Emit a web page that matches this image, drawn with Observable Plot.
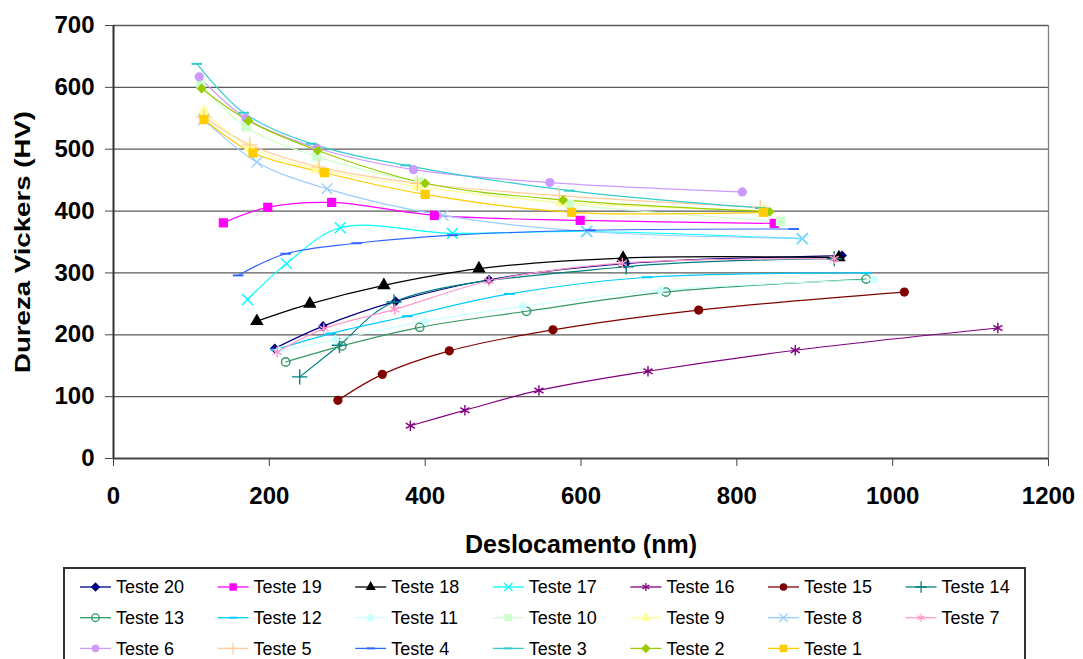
<!DOCTYPE html>
<html>
<head>
<meta charset="utf-8">
<script src="https://cdn.jsdelivr.net/npm/d3@7"></script>
<script src="https://cdn.jsdelivr.net/npm/@observablehq/plot@0.6"></script>
<style>
  body { margin: 0; background: #fff; font-family: "Liberation Sans", Arial, sans-serif; }
  #chart { position: relative; width: 1083px; height: 659px; overflow: hidden; background: #fff; }
</style>
</head>
<body>
<div id="chart"></div>
<script>
// ---- Data ----
const names = ["Teste 20","Teste 19","Teste 18","Teste 17","Teste 16","Teste 15","Teste 14",
               "Teste 13","Teste 12","Teste 11","Teste 10","Teste 9","Teste 8","Teste 7",
               "Teste 6","Teste 5","Teste 4","Teste 3","Teste 2","Teste 1"];
const colors = ["#000080","#ff00ff","#000000","#00ffff","#800080","#800000","#008080",
                "#339966","#00ccff","#ccffff","#ccffcc","#ffff99","#99ccff","#ff99cc",
                "#cc99ff","#ffcc99","#3366ff","#33cccc","#99cc00","#ffcc00"];
const markers = ["diamond","square","triangle","times","asterisk","circle","plus",
                 "ocircle","dash","diamond","square","triangle","times","asterisk",
                 "circle","plus","dash","dash","diamond","square"];

const x20 = [207, 269, 362, 482, 657, 935];   const y20 = [178, 214, 254, 289, 315, 328];
const x19 = [141, 198, 280, 412, 599, 848];   const y19 = [381, 406, 414, 393, 385, 380];
const x18 = [184, 252, 347, 469, 654, 931];   const y18 = [222, 250, 280, 307, 324, 325];
const x17 = [172, 222, 291, 435, 607, 884];   const y17 = [257, 315, 373, 364, 367, 355];
const x16 = [381, 451, 546, 686, 875, 1135];  const y16 = [53, 78, 110, 141, 175, 211];
const x15 = [288, 345, 431, 564, 751, 1015];  const y15 = [94, 136, 174, 208, 240, 269];
const x14 = [239, 290, 360, 658, 925];        const y14 = [132, 183, 253, 310, 323];
const x13 = [221, 293, 393, 530, 709, 966];   const y13 = [156, 182, 212, 238, 269, 290];
const x12 = [208, 279, 377, 508, 685, 966];   const y12 = [176, 202, 230, 266, 293, 300];
const x11 = [212, 285, 400, 525, 702, 976];   const y11 = [174, 192, 222, 246, 272, 289];
const x10 = [112, 170, 261, 392, 585, 856];   const y10 = [605, 536, 488, 447, 411, 383];
const x9  = [116, 175, 262, 390, 575, 835];   const y9  = [561, 503, 468, 440, 414, 401];
const x8  = [116, 184, 274, 423, 608, 884];   const y8  = [548, 479, 436, 393, 367, 356];
const x7  = [210, 270, 361, 482, 653, 925];   const y7  = [172, 210, 241, 287, 316, 323];
const x6  = [110, 170, 261, 385, 560, 807];   const y6  = [617, 550, 502, 467, 446, 431];
const x5  = [116, 175, 264, 390, 572, 830];   const y5  = [552, 507, 471, 445, 425, 406];
const x4  = [160, 221, 312, 435, 612, 873];   const y4  = [296, 331, 348, 361, 369, 371];
const x3  = [107, 167, 254, 375, 585, 830];   const y3  = [638, 559, 509, 474, 433, 405];
const x2  = [113, 173, 262, 400, 577, 842];   const y2  = [598, 546, 498, 445, 418, 399];
const x1  = [116, 179, 271, 400, 588, 834];   const y1  = [548, 494, 462, 427, 398, 398];

const xTicks = [0, 200, 400, 600, 800, 1000, 1200];
const yTicks = [0, 100, 200, 300, 400, 500, 600, 700];
const xLabel = "Deslocamento (nm)";
const yLabel = "Dureza Vickers (HV)";

// ---- Build table ----
const XS = [x20,x19,x18,x17,x16,x15,x14,x13,x12,x11,x10,x9,x8,x7,x6,x5,x4,x3,x2,x1];
const YS = [y20,y19,y18,y17,y16,y15,y14,y13,y12,y11,y10,y9,y8,y7,y6,y5,y4,y3,y2,y1];
const rows = names.flatMap((n, i) => XS[i].map((x, j) => ({name: n, x, y: YS[i][j]})));

const dashSymbol = {draw(ctx, size) { const w = Math.sqrt(size) * 0.6; ctx.moveTo(-w, 0); ctx.lineTo(w, 0); }};
const diamondSymbol = {draw(ctx, size) { const r = Math.sqrt(size / 2); ctx.moveTo(0, -r); ctx.lineTo(r, 0); ctx.lineTo(0, r); ctx.lineTo(-r, 0); ctx.closePath(); }};
const filledSet = new Set(["diamond","square","triangle","circle"]);
const d3Sym = {diamond: diamondSymbol, square: d3.symbolSquare, triangle: d3.symbolTriangle,
  times: d3.symbolTimes, asterisk: d3.symbolAsterisk, circle: d3.symbolCircle, plus: d3.symbolPlus,
  ocircle: d3.symbolCircle, dash: dashSymbol};

const dotMarks = names.map((n, i) => {
  const m = markers[i];
  const filled = filledSet.has(m);
  const r = m === "square" ? 5.2 : m === "diamond" ? 4 : m === "triangle" ? 5 : m === "circle" ? 4.6 : m === "ocircle" ? 4.2 : 5;
  return Plot.dot(rows.filter(d => d.name === n), {
    x: "x", y: "y", symbol: d3Sym[m], r,
    fill: filled ? colors[i] : "none",
    stroke: filled ? "none" : colors[i],
    strokeWidth: m === "dash" ? 2 : 1.4
  });
});

const lineMarks = names.map((n, i) => Plot.line(rows.filter(d => d.name === n), {
  x: "x", y: "y", stroke: colors[i], strokeWidth: 1.2, curve: "catmull-rom"
}));

const chart = Plot.plot({
  width: 1083, height: 565,
  marginLeft: 113, marginRight: 35, marginTop: 25, marginBottom: 107,
  style: {fontFamily: "'Liberation Sans', Arial, sans-serif", fontWeight: "bold", color: "#000", background: "#fff", overflow: "visible"},
  x: {domain: [0, 1200]},
  y: {domain: [0, 700]},
  marks: [
    Plot.ruleY(yTicks.filter(d => d > 0), {stroke: "#5a5a5a", strokeWidth: 1.3}),
    Plot.ruleX([1200], {stroke: "#808080", strokeWidth: 1.3}),
    Plot.ruleY([0], {stroke: "#444", strokeWidth: 2}),
    Plot.ruleX([0], {stroke: "#333", strokeWidth: 2}),
    Plot.axisX({ticks: xTicks, tickSize: 8, tickPadding: 20, fontSize: 24, label: null, tickFormat: d => String(d), stroke: "#444"}),
    Plot.axisY({ticks: yTicks, tickSize: 8, tickPadding: 11, fontSize: 24, label: null, tickFormat: d => String(d), stroke: "#444"}),
    Plot.text([xLabel], {text: d => d, frameAnchor: "bottom", dy: 94, fontSize: 25, fontWeight: "bold"}),
    Plot.text([yLabel], {text: d => d, frameAnchor: "left", textAnchor: "middle", dx: -91, rotate: -90, fontSize: 22, fontWeight: "bold"}),
    ...lineMarks,
    ...dotMarks
  ]
});
document.getElementById("chart").appendChild(chart);

d3.select(chart).selectAll("text").filter(function () { return this.textContent === yLabel; })
  .attr("textLength", 262).attr("lengthAdjust", "spacingAndGlyphs");

// ---- Legend ----
const leg = d3.select("#chart").append("svg")
  .attr("width", 1083).attr("height", 94)
  .style("position", "absolute").style("left", "0px").style("top", "565px");
leg.append("rect").attr("x", 64).attr("y", 3).attr("width", 961).attr("height", 110)
  .attr("fill", "#fff").attr("stroke", "#333").attr("stroke-width", 2);
names.forEach((n, i) => {
  const col = i % 7, row = Math.floor(i / 7);
  const x0 = 80 + col * 137.6, y0 = 22 + row * 30.7;
  const g = leg.append("g");
  g.append("line").attr("x1", x0).attr("x2", x0 + 31).attr("y1", y0).attr("y2", y0)
    .attr("stroke", colors[i]).attr("stroke-width", 1.3);
  const m = markers[i];
  const filled = filledSet.has(m);
  g.append("path").attr("transform", `translate(${x0 + 15.5},${y0})`)
    .attr("d", d3.symbol().type(d3Sym[m]).size(m === "square" ? 55 : 45)())
    .attr("fill", filled ? colors[i] : "none")
    .attr("stroke", filled ? "none" : colors[i]).attr("stroke-width", m === "dash" ? 2 : 1.3);
  g.append("text").attr("x", x0 + 36).attr("y", y0).attr("dy", "0.35em")
    .attr("font-family", "'Liberation Sans', Arial, sans-serif").attr("font-size", 18)
    .attr("fill", "#000").text(n);
});
</script>
</body>
</html>
